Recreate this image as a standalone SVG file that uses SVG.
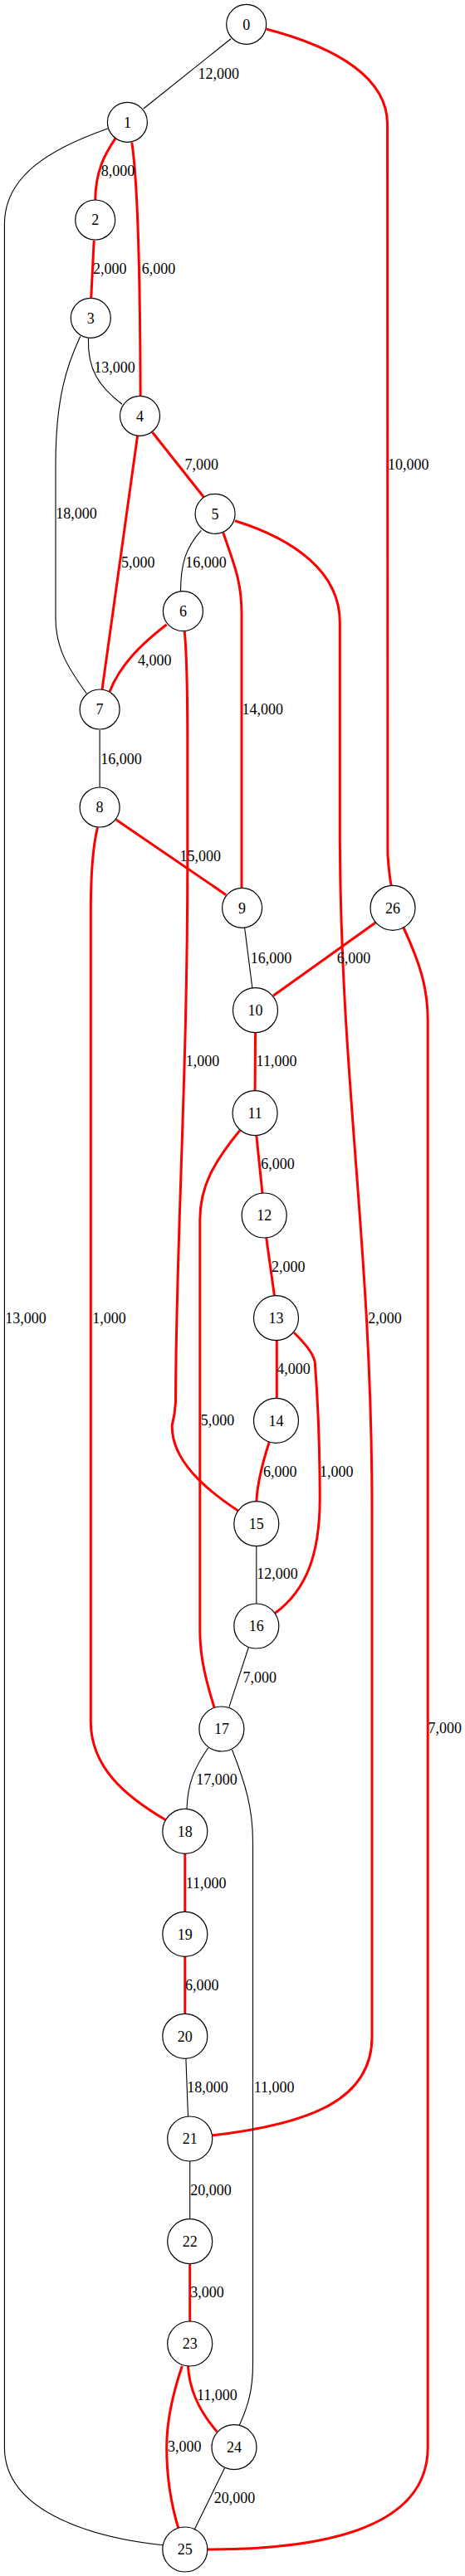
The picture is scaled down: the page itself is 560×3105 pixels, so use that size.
<svg xmlns="http://www.w3.org/2000/svg" width="560" height="3105" viewBox="0 0 560 3105">
<style>
.n circle{fill:#fff;stroke:#000;stroke-width:1.2}
.n text{font-family:"Liberation Serif","Times New Roman",serif;font-size:18px;text-anchor:middle;fill:#000}
.e path{fill:none}
.b{stroke:#000;stroke-width:1.1}
.r{stroke:#ff0000;stroke-width:3}
.lbl text{font-family:"Liberation Serif","Times New Roman",serif;font-size:18px;text-anchor:middle;fill:#000}
</style>
<rect width="560" height="3105" fill="#fff"/>
<g id="connectors" class="e">
<path class="b" d="M278.1,46.7 L172.8,131"/>
<path class="r" d="M320.7,35 C408.5,58 466.6,95 466.6,150 L466.9,1030 Q468.7,1055 471.4,1069"/>
<path class="b" d="M129.8,155 C64.5,178 5.4,210 5.4,270 L5.4,2950 C5.4,3030 118,3060 198.9,3068"/>
<path class="r" d="M139,166.7 C126.9,185 115,205 114.7,242"/>
<path class="r" d="M158.8,171.7 C164.5,210 168.8,300 169.1,479"/>
<path class="r" d="M113.2,289.7 L109.7,360"/>
<path class="b" d="M106.4,408 C105.4,445 118.3,465 147,487.3"/>
<path class="b" d="M96.8,405.3 C80.6,440 67,480 67,560 L67,745 C67,785 86,810 104,835.7"/>
<path class="r" d="M183.5,521 L245.4,599.3"/>
<path class="r" d="M165.6,525.3 L123,831"/>
<path class="b" d="M242.2,639.3 C223.6,660 217.5,680 217.5,713.3"/>
<path class="r" d="M268.8,642 C281.7,680 291,700 291,740 L291,1072"/>
<path class="r" d="M283,627.7 C354.8,650 409.3,690 409.3,750 L409.3,1000 C409.3,1300 448,1500 448,1820 L448,2455 C448,2530 376,2560 255.1,2574"/>
<path class="r" d="M200.7,752.7 C172,775 145,800 131.9,834"/>
<path class="r" d="M222.2,761 C225.2,790 225.8,830 225.8,900 L225.8,1040 C225.8,1300 211.8,1500 211.5,1690 Q210.7,1705 207.2,1718 C206.4,1760 247.3,1795 286.7,1821"/>
<path class="b" d="M120.1,880 L120.1,949"/>
<path class="r" d="M139.8,988 L272.3,1078.7"/>
<path class="r" d="M117.5,997.3 C111.8,1020 109.3,1060 109.3,1100 L109.3,2075 C109.3,2130 150.5,2165 200,2194"/>
<path class="b" d="M294.6,1118 L303.9,1191.3"/>
<path class="r" d="M452.3,1112 L329,1200.3"/>
<path class="r" d="M485.9,1118 C505.3,1160 515.2,1190 515.2,1230 L515.2,2950 C515.2,3040 408.5,3073 250.1,3073"/>
<path class="r" d="M307.5,1244.7 L307.1,1316"/>
<path class="r" d="M308.8,1368.3 L316,1438.3"/>
<path class="r" d="M289.5,1361.7 C258,1400 240.8,1430 240.8,1470 L240.8,1966 C240.8,2000 249.4,2030 258,2058"/>
<path class="r" d="M320.7,1491.7 L330.4,1561.3"/>
<path class="r" d="M333.3,1616 L333.3,1685.3"/>
<path class="r" d="M354,1606.3 C367.7,1620 376.3,1630 379.2,1641.3 C383.8,1700 385.2,1760 385.2,1808 C384.9,1870 370.9,1915 331.4,1944.3"/>
<path class="r" d="M324.3,1738 C313.9,1770 309.6,1790 308.8,1811"/>
<path class="b" d="M308.8,1862.7 L308.8,1933.3"/>
<path class="b" d="M299.2,1986 L275.9,2057.7"/>
<path class="b" d="M250.8,2106.7 C234.4,2130 225.8,2150 225,2180.7"/>
<path class="b" d="M279.5,2109 C295.6,2150 304.5,2180 304.5,2220 L304.5,2850 C304.5,2880 298.9,2900 288.4,2923"/>
<path class="r" d="M222.8,2234 L222.8,2304"/>
<path class="r" d="M222.8,2358 L222.8,2428"/>
<path class="b" d="M223.9,2481.3 L226.5,2551.3"/>
<path class="b" d="M228.7,2605 L228.7,2675"/>
<path class="r" d="M228.7,2729 L228.7,2799"/>
<path class="r" d="M226.5,2852 C227.9,2880 238.7,2905 261.5,2931.3"/>
<path class="r" d="M219.3,2852 C206.4,2890 200.7,2920 200.7,2950 C200.7,2990 206.4,3020 215,3048"/>
<path class="b" d="M270.6,2974.7 L234.7,3048"/>
</g>
<g id="edge-labels" class="lbl">
<text x="263.2" y="95">12,000</text>
<text x="141.9" y="212.3">8,000</text>
<text x="132.2" y="330.3">2,000</text>
<text x="191.1" y="330.3">6,000</text>
<text x="137.9" y="448.7">13,000</text>
<text x="242.7" y="566">7,000</text>
<text x="491.8" y="566">10,000</text>
<text x="91.9" y="625.3">18,000</text>
<text x="166.3" y="684.3">5,000</text>
<text x="248.1" y="684.3">16,000</text>
<text x="186.2" y="802.3">4,000</text>
<text x="316.3" y="861.3">14,000</text>
<text x="146" y="920.7">16,000</text>
<text x="241.3" y="1038">15,000</text>
<text x="326.6" y="1161.3">16,000</text>
<text x="425.9" y="1161.3">6,000</text>
<text x="244" y="1285.3">1,000</text>
<text x="333" y="1285.3">11,000</text>
<text x="334.5" y="1409.3">6,000</text>
<text x="347.2" y="1532.7">2,000</text>
<text x="31" y="1594.7">13,000</text>
<text x="131.5" y="1594.7">1,000</text>
<text x="463.6" y="1594.7">2,000</text>
<text x="353.5" y="1656.3">4,000</text>
<text x="262" y="1718">5,000</text>
<text x="337.2" y="1780.3">6,000</text>
<text x="405.3" y="1780.3">1,000</text>
<text x="334.1" y="1903.3">12,000</text>
<text x="312.8" y="2027.7">7,000</text>
<text x="535.7" y="2089">7,000</text>
<text x="261" y="2151.3">17,000</text>
<text x="248.1" y="2275.7">11,000</text>
<text x="243.2" y="2398.7">6,000</text>
<text x="249.9" y="2522">18,000</text>
<text x="330.2" y="2522">11,000</text>
<text x="253.9" y="2646">20,000</text>
<text x="249.4" y="2769.3">3,000</text>
<text x="261.4" y="2893">11,000</text>
<text x="222.2" y="2955.3">3,000</text>
<text x="282.5" y="3017.3">20,000</text>
</g>
<g id="node0" class="n"><circle cx="296.7" cy="29.3" r="24"/><text x="296.7" y="35.5">0</text></g>
<g id="node1" class="n"><circle cx="153.4" cy="147.3" r="24"/><text x="153.4" y="153.5">1</text></g>
<g id="node2" class="n"><circle cx="114.7" cy="265" r="24"/><text x="114.7" y="271.2">2</text></g>
<g id="node3" class="n"><circle cx="109.3" cy="383.3" r="24"/><text x="109.3" y="389.5">3</text></g>
<g id="node4" class="n"><circle cx="168.5" cy="501.3" r="24"/><text x="168.5" y="507.5">4</text></g>
<g id="node5" class="n"><circle cx="259.1" cy="619.3" r="24"/><text x="259.1" y="625.5">5</text></g>
<g id="node6" class="n"><circle cx="220.4" cy="736.7" r="24"/><text x="220.4" y="742.9">6</text></g>
<g id="node7" class="n"><circle cx="120.1" cy="855" r="24"/><text x="120.1" y="861.2">7</text></g>
<g id="node8" class="n"><circle cx="120.1" cy="973" r="24"/><text x="120.1" y="979.2">8</text></g>
<g id="node9" class="n"><circle cx="291.6" cy="1094.3" r="24"/><text x="291.6" y="1100.5">9</text></g>
<g id="node26" class="n"><circle cx="473" cy="1094.3" r="27"/><text x="473" y="1100.5">26</text></g>
<g id="node10" class="n"><circle cx="307.5" cy="1217.7" r="27"/><text x="307.5" y="1223.9">10</text></g>
<g id="node11" class="n"><circle cx="307.1" cy="1341.7" r="27"/><text x="307.1" y="1347.9">11</text></g>
<g id="node12" class="n"><circle cx="318.2" cy="1465" r="27"/><text x="318.2" y="1471.2">12</text></g>
<g id="node13" class="n"><circle cx="332.5" cy="1588.7" r="27"/><text x="332.5" y="1594.9">13</text></g>
<g id="node14" class="n"><circle cx="332.5" cy="1712.3" r="27"/><text x="332.5" y="1718.5">14</text></g>
<g id="node15" class="n"><circle cx="308.8" cy="1836.7" r="27"/><text x="308.8" y="1842.9">15</text></g>
<g id="node16" class="n"><circle cx="308.8" cy="1960" r="27"/><text x="308.8" y="1966.2">16</text></g>
<g id="node17" class="n"><circle cx="266.9" cy="2084" r="27"/><text x="266.9" y="2090.2">17</text></g>
<g id="node18" class="n"><circle cx="222.8" cy="2207.3" r="27"/><text x="222.8" y="2213.5">18</text></g>
<g id="node19" class="n"><circle cx="222.8" cy="2331.3" r="27"/><text x="222.8" y="2337.5">19</text></g>
<g id="node20" class="n"><circle cx="222.8" cy="2454.3" r="27"/><text x="222.8" y="2460.5">20</text></g>
<g id="node21" class="n"><circle cx="228.7" cy="2578" r="27"/><text x="228.7" y="2584.2">21</text></g>
<g id="node22" class="n"><circle cx="228.7" cy="2701.7" r="27"/><text x="228.7" y="2707.9">22</text></g>
<g id="node23" class="n"><circle cx="228.7" cy="2825" r="27"/><text x="228.7" y="2831.2">23</text></g>
<g id="node24" class="n"><circle cx="282" cy="2949.7" r="27"/><text x="282" y="2955.9">24</text></g>
<g id="node25" class="n"><circle cx="222.8" cy="3073" r="27"/><text x="222.8" y="3079.2">25</text></g>
</svg>
